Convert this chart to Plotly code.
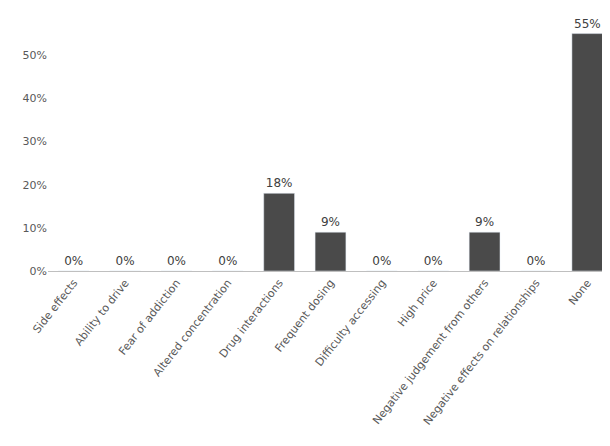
import plotly.graph_objects as go

categories = ["Side effects", "Ability to drive", "Fear of addiction", "Altered concentration",
              "Drug interactions", "Frequent dosing", "Difficulty accessing", "High price",
              "Negative judgement from others", "Negative effects on relationships", "None"]
values = [0, 0, 0, 0, 18, 9, 0, 0, 9, 0, 55]
labels = [f"{v}%" for v in values]

fig = go.Figure(go.Bar(
    x=categories, y=values, text=labels, textposition="outside",
    marker_color="#4a4a4a", width=0.6, cliponaxis=False,
    textfont=dict(size=12, color="#404040"),
))

fig.update_layout(
    width=610, height=446,
    margin=dict(l=40, r=5, t=4, b=183),
    plot_bgcolor="white", paper_bgcolor="white",
    font=dict(family="DejaVu Sans, Arial", size=11, color="#595959"),
    showlegend=False,
)
fig.update_yaxes(range=[0, 60], dtick=10, ticksuffix="%", showgrid=False,
                 zeroline=False, tickfont=dict(size=11))
fig.update_xaxes(tickangle=-52, showline=True, linecolor="#bfbfbf", linewidth=1,
                 tickfont=dict(size=11))

fig.write_html("out.html")
